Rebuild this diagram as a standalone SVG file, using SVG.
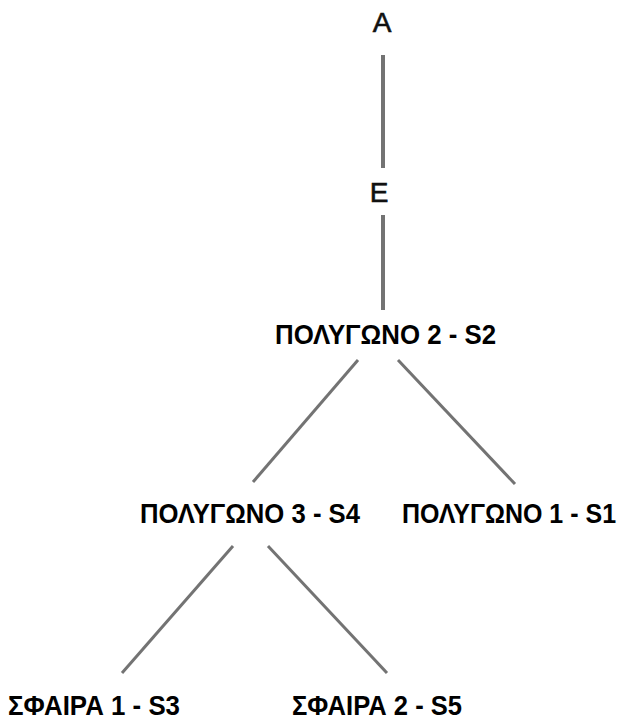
<svg xmlns="http://www.w3.org/2000/svg" width="624" height="721" viewBox="0 0 624 721">
<style>
.lbl{font-family:"Liberation Sans",Arial,sans-serif;font-size:28px;font-weight:bold;fill:#000}
.ltr{font-family:"Liberation Sans",Arial,sans-serif;font-size:28px;fill:#111;stroke:#111;stroke-width:0.6}
.edge{stroke:#737373;stroke-width:3;fill:none}
.vert{stroke:#737373;stroke-width:4;fill:none}
</style>
<rect width="624" height="721" fill="#fff"/>
<g id="connectors">
<line class="vert" x1="383" y1="55" x2="383" y2="168"/>
<line class="vert" x1="383" y1="215" x2="383" y2="310"/>
<line class="edge" x1="358" y1="360" x2="253" y2="482"/>
<line class="edge" x1="398" y1="360" x2="515" y2="484"/>
<line class="edge" x1="233" y1="546" x2="122" y2="673"/>
<line class="edge" x1="268" y1="546" x2="387" y2="673"/>
</g>
<g id="nodeA"><text class="ltr" x="382" y="32" text-anchor="middle">A</text></g>
<g id="nodeE"><text class="ltr" x="379" y="202" text-anchor="middle">E</text></g>
<g id="poly2"><text class="lbl" x="275" y="344" textLength="221" lengthAdjust="spacingAndGlyphs">ΠΟΛΥΓΩΝΟ 2 - S2</text></g>
<g id="poly3"><text class="lbl" x="140" y="523" textLength="220" lengthAdjust="spacingAndGlyphs">ΠΟΛΥΓΩΝΟ 3 - S4</text></g>
<g id="poly1" transform="translate(402,523) scale(1,1.12)"><text class="lbl" x="0" y="0" style="font-size:25px">ΠΟΛΥΓΩΝΟ 1 - S1</text></g>
<g id="sphere1"><text class="lbl" x="8" y="715" textLength="172" lengthAdjust="spacingAndGlyphs">ΣΦΑΙΡΑ 1 - S3</text></g>
<g id="sphere2"><text class="lbl" x="292" y="715" textLength="170" lengthAdjust="spacingAndGlyphs">ΣΦΑΙΡΑ 2 - S5</text></g>
</svg>
